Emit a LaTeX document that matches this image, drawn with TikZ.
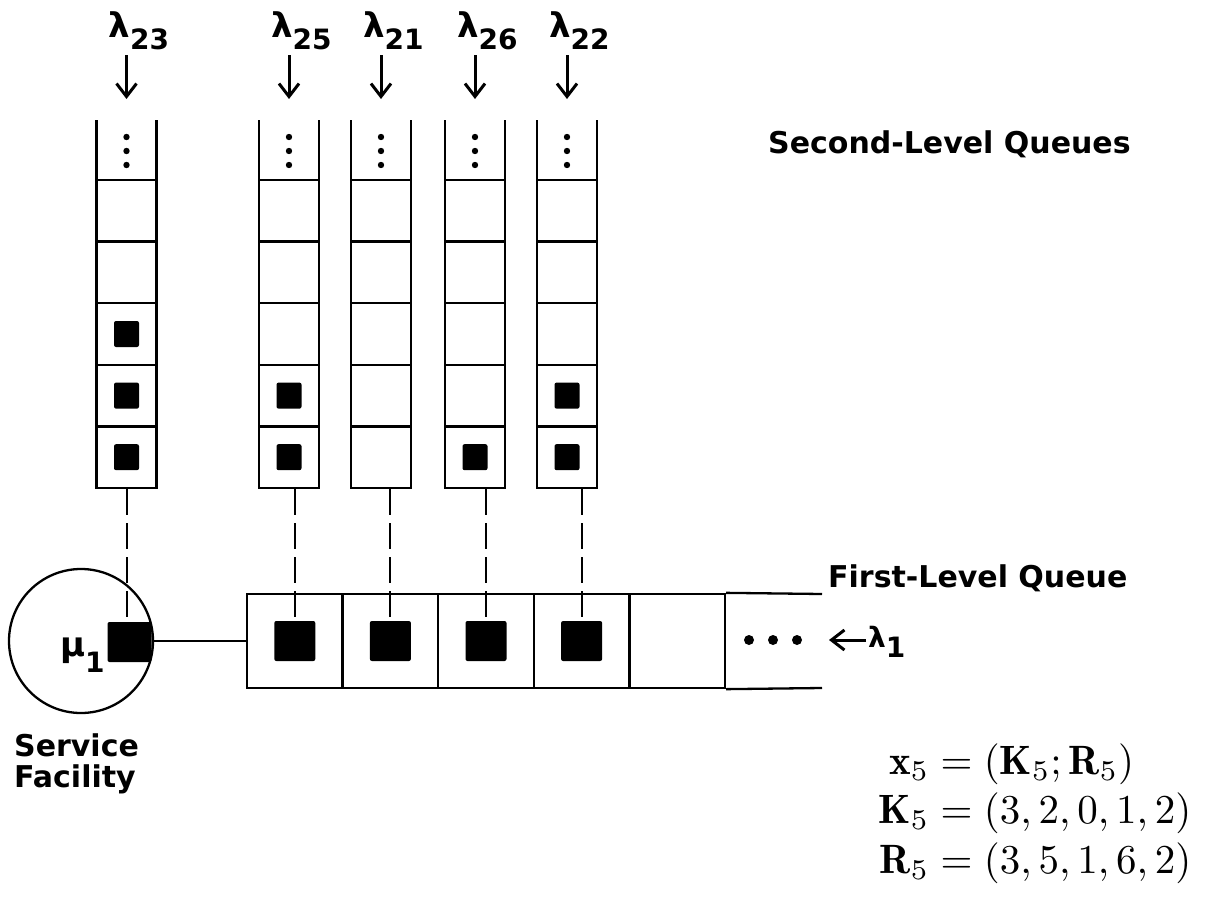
\documentclass[tikz,border=0pt]{standalone}
\usepackage{fontspec}
\usepackage{amsmath}
\usetikzlibrary{arrows.meta}
\newfontfamily\labfont{DejaVu Sans}
\newcommand\lsub[2]{\raisebox{-#1}{\fontsize{28}{28}\selectfont #2}}
\tikzset{
  frame/.style={line width=2.3pt},
  cell/.style={draw, line width=2.3pt, minimum width=60pt, minimum height=61.6pt, inner sep=0pt},
  fcell/.style={draw, line width=2.3pt, minimum width=95.6pt, minimum height=94pt, inner sep=0pt},
  job/.style={fill=black, rounded corners=2pt, minimum width=25pt, minimum height=26pt, inner sep=0pt},
  bigjob/.style={fill=black, rounded corners=2pt, minimum width=41pt, minimum height=40pt, inner sep=0pt},
  link/.style={line width=2pt, dash pattern=on 26pt off 8pt},
  inarrow/.style={line width=3pt, -{Straight Barb[length=13pt,width=20pt]}},
  lab/.style={inner sep=0pt, font={\labfont\bfseries\fontsize{30}{31}\selectfont}},
  lamlab/.style={inner sep=0pt, anchor=base west, font={\labfont\bfseries\fontsize{34}{34}\selectfont}},
}
\begin{document}
\begin{tikzpicture}[x=1pt,y=-1pt]
\useasboundingbox (0,0) rectangle (1208,902);

% second-level queues: columns with an open top cell holding the dots
\foreach \i/\x in {1/126.5,2/289,3/381,4/475,5/567}{
  \draw[frame] (\x-30,120) -- (\x-30,180);
  \draw[frame] (\x+30,120) -- (\x+30,180);
  \foreach \d in {137,151,165} \fill (\x,\d) circle (3.2pt);
  \foreach \j in {1,...,5}
    \node[cell] (q\i-\j) at (\x,{180+61.6*(\j-0.5)}) {};
}
% customers waiting in the second-level queues, K = (3,2,0,1,2)
\foreach \i/\j in {1/3,1/4,1/5,2/4,2/5,4/5,5/4,5/5}
  \node[job] (s\i-\j) at (q\i-\j) {};

% arrival streams of the second-level queues
\foreach \i/\x/\n in {1/126.5/23,2/289/25,3/381/21,4/475/26,5/567/22}{
  \node[lamlab] (lam\n) at (\x-18,37) {λ\lsub{13pt}{\n}};
  \coordinate (in\i s) at (\x,55);
  \coordinate (in\i e) at (\x,99);
  \draw[inarrow] (in\i s) -- (in\i e);
}

\node[lab, anchor=base west] (slq) at (768,153) {Second-Level Queues};

% first-level queue
\foreach \k in {1,...,5}
  \node[fcell] (f\k) at ({247+95.6*(\k-0.5)},641) {};
\coordinate (fendt) at (822,594);
\coordinate (fendb) at (822,688);
\draw[frame] (f5.north east) -- (fendt);
\draw[frame] (f5.south east) -- (fendb);
\foreach \d in {749,773,797} \fill (\d,640) circle (5pt);
\foreach \k in {1,...,4}
  \node[bigjob] (b\k) at (f\k) {};

\node[lab, anchor=base west] (flq) at (828,587) {First-Level Queue};

% arrivals to the first-level queue
\node[lamlab, font={\labfont\bfseries\fontsize{28}{28}\selectfont}] (lam1) at (868,647) {λ\lsub{10pt}{1}};
\coordinate (a1s) at (866,640);
\coordinate (a1e) at (829,640);
\draw[inarrow] (a1s) -- (a1e);

% service facility
\node[bigjob, minimum width=44pt] (srvjob) at (129.5,642) {};
\node[draw, circle, line width=2.3pt, minimum size=144pt, inner sep=0pt] (srv) at (81,641) {};
\node[lamlab, font={\labfont\bfseries\fontsize{34}{34}\selectfont}] (mu1) at (60,656) {μ\lsub{16pt}{1}};
\draw[frame] (srv.east) -- (f1.west);
\node[lab, anchor=north west, align=left] (sf) at (14,733) {Service\\Facility};

% links from each second-level queue to its head-of-line customer
\draw[link] (q1-5.south) -- (q1-5.south |- srvjob.north);
\draw[link] (b1.north |- q2-5.south) -- (b1.north);
\draw[link] (b2.north |- q3-5.south) -- (b2.north);
\draw[link] (b3.north |- q4-5.south) -- (b3.north);
\draw[link] (b4.north |- q5-5.south) -- (b4.north);

% state description
\node[anchor=west, inner sep=0pt, scale=4.1] (eqs) at (878,814)
  {\setlength{\jot}{0pt}$\begin{aligned}
    \mathbf{x}_5 &= (\mathbf{K}_5;\mathbf{R}_5)\\
    \mathbf{K}_5 &= (3,2,0,1,2)\\
    \mathbf{R}_5 &= (3,5,1,6,2)
  \end{aligned}$};
\end{tikzpicture}
\end{document}
